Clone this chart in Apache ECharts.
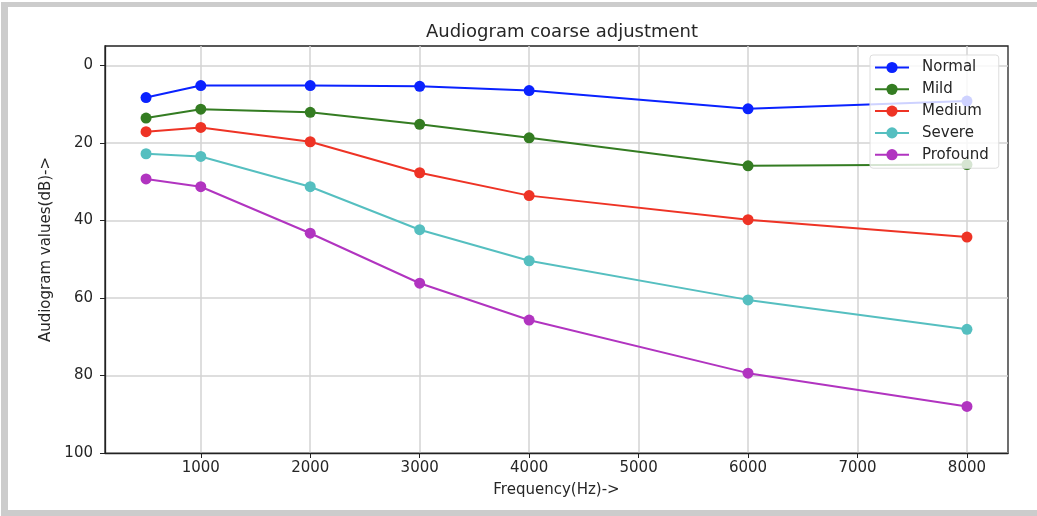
<!DOCTYPE html>
<html>
<head>
<meta charset="utf-8">
<script src="https://cdn.jsdelivr.net/npm/echarts@6/dist/echarts.min.js"></script>
<style>
  html, body { margin: 0; padding: 0; background: #fff; }
  .frame {
    position: absolute;
    left: 1px; top: 2px;
    width: 1029px; height: 503px;
    border-top: 5px solid #cccccc;
    border-left: 7px solid #cccccc;
    border-bottom: 6px solid #cccccc;
  }
  #main { position: absolute; left: 0; top: 0; width: 1037px; height: 516px; }
</style>
</head>
<body>
<div class="frame"></div>
<div id="main"></div>
<script>
// frequencies (Hz)
const freqs = [500, 1000, 2000, 3000, 4000, 6000, 8000];
const xTicks = [1000, 2000, 3000, 4000, 5000, 6000, 7000, 8000];
const yTicks = [0, 20, 40, 60, 80, 100];

// hearing levels (dB)
const normal   = [8.3, 5.2, 5.2, 5.4, 6.5, 11.2, 9.2];
const mild     = [13.6, 11.3, 12.1, 15.2, 18.7, 25.9, 25.6];
const medium   = [17.1, 16.0, 19.7, 27.7, 33.6, 39.8, 44.3];
const severe   = [22.8, 23.5, 31.3, 42.4, 50.4, 60.5, 68.1];
const profound = [29.3, 31.3, 43.3, 56.2, 65.7, 79.4, 88.0];

const names  = ['Normal', 'Mild', 'Medium', 'Severe', 'Profound'];
const values = [normal, mild, medium, severe, profound];
const colors = ['#0a22ff', '#347c22', '#ee3325', '#55bfc0', '#b134c0'];

const txt = '#262626';
const font = 'DejaVu Sans';

const chart = echarts.init(document.getElementById('main'));
chart.setOption({
  animation: false,
  textStyle: { fontFamily: font, color: txt },
  title: {
    text: 'Audiogram coarse adjustment',
    left: 557, top: 18, textAlign: 'center',
    textStyle: { fontFamily: font, fontSize: 18, fontWeight: 'normal', color: txt }
  },
  grid: {
    left: 105, right: 29, top: 46, bottom: 63,
    show: true, borderColor: '#222', borderWidth: 1.3, backgroundColor: 'transparent'
  },
  legend: {
    orient: 'vertical',
    left: 870, top: 55,
    data: names,
    itemWidth: 34, itemHeight: 14, itemGap: 6.8,
    padding: [5, 10, 6, 4],
    backgroundColor: 'rgba(255,255,255,0.8)',
    borderColor: '#dddddd', borderWidth: 1, borderRadius: 3,
    textStyle: { fontFamily: font, fontSize: 15, color: txt, padding: [0, 0, 0, 8] }
  },
  xAxis: {
    type: 'value',
    min: 125, max: 8375,
    name: 'Frequency(Hz)->',
    nameLocation: 'middle', nameGap: 30,
    nameTextStyle: { fontFamily: font, fontSize: 15, color: txt },
    axisLine: { show: true, onZero: false, lineStyle: { color: '#222', width: 1.3 } },
    axisTick: { show: true, length: 5, customValues: xTicks, lineStyle: { color: '#222' } },
    axisLabel: {
      customValues: xTicks, margin: 8, fontFamily: font, fontSize: 15, color: txt,
      formatter: v => String(v)
    },
    splitLine: { show: true, lineStyle: { color: '#d3d3d3', width: 1.5 } }
  },
  yAxis: {
    type: 'value',
    inverse: true,
    min: -5, max: 100,
    name: 'Audiogram values(dB)->',
    nameLocation: 'middle', nameGap: 48,
    nameTextStyle: { fontFamily: font, fontSize: 15, color: txt },
    axisLine: { show: true, onZero: false, lineStyle: { color: '#222', width: 1.3 } },
    axisTick: { show: true, length: 5, customValues: yTicks, lineStyle: { color: '#222' } },
    axisLabel: {
      customValues: yTicks, margin: 12, fontFamily: font, fontSize: 15, color: txt,
      formatter: v => String(v)
    },
    splitLine: { show: true, lineStyle: { color: '#d3d3d3', width: 1.5 } }
  },
  series: names.map((n, i) => ({
    name: n,
    type: 'line',
    data: freqs.map((f, j) => [f, values[i][j]]),
    symbol: 'circle',
    symbolSize: 11,
    color: colors[i],
    lineStyle: { width: 2, color: colors[i] },
    itemStyle: { color: colors[i] }
  }))
});
</script>
</body>
</html>
